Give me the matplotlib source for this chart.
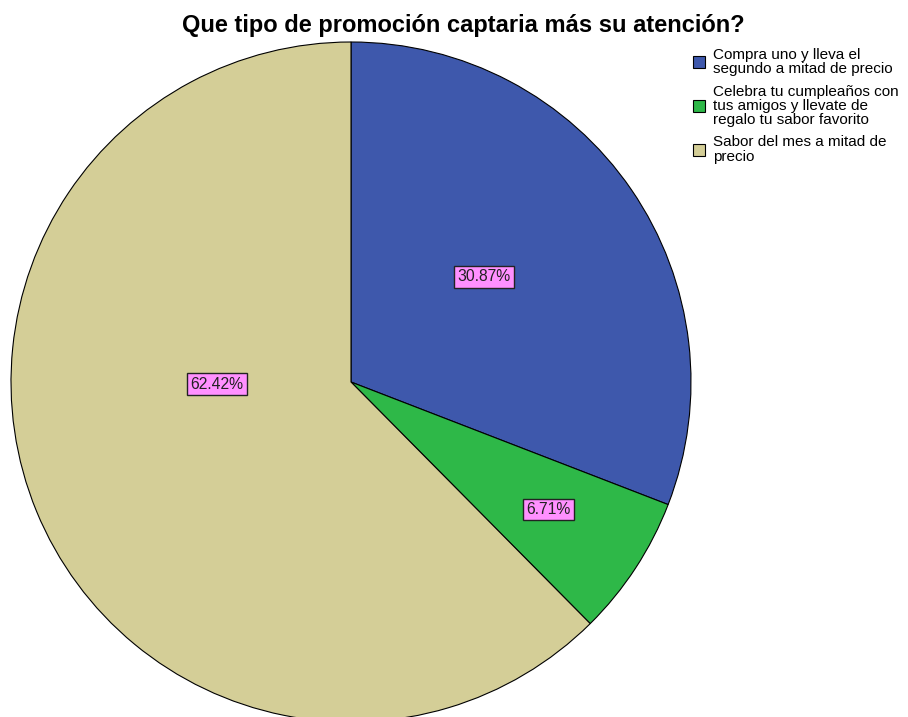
import numpy as np
import matplotlib.pyplot as plt
from matplotlib.patches import Patch

# datos del grafico
categorias = [
    "Compra uno y lleva el\nsegundo a mitad de precio",
    "Celebra tu cumpleaños con\ntus amigos y llevate de\nregalo tu sabor favorito",
    "Sabor del mes a mitad de\nprecio",
]
porcentajes = [30.87, 6.71, 62.42]
colores = ["#3e58ac", "#2eb848", "#d4ce97"]
titulo = "Que tipo de promoción captaria más su atención?"

# posicion de las etiquetas dentro del pastel (fraccion del radio)
pos_etiquetas = [(0.391, 0.309), (0.581, -0.374), (-0.394, -0.006)]

plt.rcParams["font.family"] = ["Liberation Sans", "DejaVu Sans"]

fig = plt.figure(figsize=(9.08, 7.17), dpi=100)
W, H = 908, 717
cx, cy, r = 351, 382, 340
ax = fig.add_axes([(cx - r) / W, (H - cy - r) / H, 2 * r / W, 2 * r / H])

wedges, _ = ax.pie(
    porcentajes,
    colors=colores,
    startangle=90,
    counterclock=False,
    radius=1,
    wedgeprops=dict(edgecolor="black", linewidth=0.8),
)
ax.set_xlim(-1, 1)
ax.set_ylim(-1, 1)
ax.set_aspect("equal")
ax.axis("off")

for p, (x, y) in zip(porcentajes, pos_etiquetas):
    ax.text(x, y, f"{p:.2f}%", ha="center", va="center", fontsize=11.3, color="#222222",
            bbox=dict(boxstyle="square,pad=0.2", facecolor="#ff90ff", edgecolor="#222222", linewidth=1))

fig.text(463 / W, 1 - 32 / H, titulo, ha="center", va="baseline", fontsize=17, fontweight="bold")

handles = [Patch(facecolor=c, edgecolor="black", linewidth=0.8) for c in colores]
leg = fig.legend(handles, categorias, loc="upper left", bbox_to_anchor=(693 / W, 1 - 48 / H),
                 frameon=False, fontsize=11, borderpad=0, borderaxespad=0,
                 handlelength=0.8, handleheight=0.85, handletextpad=0.5, labelspacing=0.55)
for t in leg.get_texts():
    t.set_linespacing(1.02)

fig.savefig("out.png", dpi=100)
